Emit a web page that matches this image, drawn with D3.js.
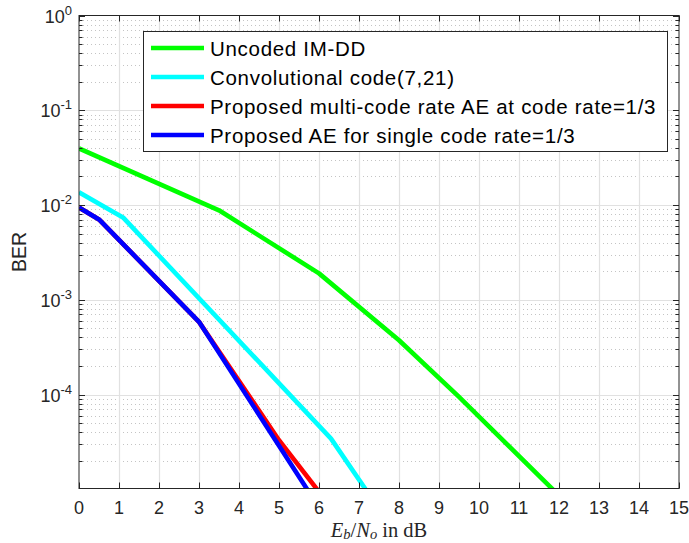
<!DOCTYPE html>
<html>
<head>
<meta charset="utf-8">
<script src="https://cdn.jsdelivr.net/npm/d3@7"></script>
<style>
  html, body { margin: 0; padding: 0; background: #fff; }
  svg { display: block; }
</style>
</head>
<body>
<svg id="chart" width="689" height="543"></svg>
<script>
// BER curves versus Eb/No (dB)
const seriesNames = [
  "Uncoded IM-DD",
  "Convolutional code(7,21)",
  "Proposed multi-code rate AE at code rate=1/3",
  "Proposed AE for single code rate=1/3"
];
const seriesColors = ["#00ff00", "#00ffff", "#ff0000", "#0000ff"];

const uncodedX = [0, 3.5, 6, 8, 9.5, 12];
const uncodedY = [0.0396, 0.0088, 0.0019, 3.74e-4, 9.44e-5, 8.6e-6];

const convX = [0, 1.1, 6.3, 7.5];
const convY = [0.0136, 0.0074, 3.43e-5, 6.2e-6];

const multiX = [0, 0.5, 3, 5, 6];
const multiY = [0.0094, 0.00705, 5.85e-4, 3.3e-5, 9.4e-6];

const singleX = [0, 0.5, 3, 6];
const singleY = [0.0094, 0.00705, 5.85e-4, 6.4e-6];

const xTicks = d3.range(0, 16, 1);
const yTickExps = [0, -1, -2, -3, -4];
const yDomain = [1.02e-5, 1];

const series = [
  { x: uncodedX, y: uncodedY },
  { x: convX, y: convY },
  { x: multiX, y: multiY },
  { x: singleX, y: singleY }
];

const svg = d3.select("#chart");
const L = 79, R = 679, T = 15.5, B = 488.5;

const x = d3.scaleLinear().domain([0, 15]).range([L, R]);
const y = d3.scaleLog().domain(yDomain).range([B, T]);

const axisColor = "#262626";
const fontSans = "'Liberation Sans', Arial, Helvetica, sans-serif";

// minor log values
const minorVals = [];
for (let e = -5; e < 0; e++) {
  for (let m = 2; m <= 9; m++) {
    const v = m * Math.pow(10, e);
    if (v > yDomain[0] && v < yDomain[1]) minorVals.push(v);
  }
}

const grid = svg.append("g");
// minor horizontal grid (dotted)
grid.selectAll("line.minor").data(minorVals).join("line")
  .attr("x1", L).attr("x2", R)
  .attr("y1", d => Math.round(y(d)) + 0.5).attr("y2", d => Math.round(y(d)) + 0.5)
  .attr("stroke", "#c4c4c4").attr("stroke-width", 1)
  .attr("stroke-dasharray", "1,3");
// major grid
grid.selectAll("line.vx").data(xTicks.slice(1, -1)).join("line")
  .attr("x1", d => Math.round(x(d)) + 0.5).attr("x2", d => Math.round(x(d)) + 0.5)
  .attr("y1", T).attr("y2", B)
  .attr("stroke", "#e1e1e1").attr("stroke-width", 1.2);
grid.selectAll("line.hy").data(yTickExps.slice(1)).join("line")
  .attr("x1", L).attr("x2", R)
  .attr("y1", d => Math.round(y(Math.pow(10, d))) + 0.5)
  .attr("y2", d => Math.round(y(Math.pow(10, d))) + 0.5)
  .attr("stroke", "#e1e1e1").attr("stroke-width", 1.2);

// curves
svg.append("clipPath").attr("id", "plotClip")
  .append("rect").attr("x", L).attr("y", T).attr("width", R - L).attr("height", B - T);

const line = d3.line().x(d => x(d[0])).y(d => y(d[1]));
const curves = svg.append("g").attr("clip-path", "url(#plotClip)");
series.forEach((s, i) => {
  const pts = s.x.map((v, k) => [v, s.y[k]]);
  curves.append("path").datum(pts)
    .attr("d", line)
    .attr("fill", "none")
    .attr("stroke", seriesColors[i])
    .attr("stroke-width", 4.6)
    .attr("stroke-linejoin", "round");
});

// axes with inward ticks on all sides
const axes = svg.append("g");
axes.append("rect").attr("x", L).attr("y", T).attr("width", R - L).attr("height", B - T)
  .attr("fill", "none").attr("stroke", axisColor).attr("stroke-width", 1);

const majorLen = 6, minorLen = 3.5;
xTicks.forEach(t => {
  const px = Math.round(x(t)) + 0.5;
  axes.append("line").attr("x1", px).attr("x2", px).attr("y1", B).attr("y2", B - majorLen)
    .attr("stroke", axisColor);
  axes.append("line").attr("x1", px).attr("x2", px).attr("y1", T).attr("y2", T + majorLen)
    .attr("stroke", axisColor);
});
yTickExps.forEach(e => {
  const py = Math.round(y(Math.pow(10, e))) + 0.5;
  axes.append("line").attr("x1", L).attr("x2", L + majorLen).attr("y1", py).attr("y2", py)
    .attr("stroke", axisColor);
  axes.append("line").attr("x1", R).attr("x2", R - majorLen).attr("y1", py).attr("y2", py)
    .attr("stroke", axisColor);
});
minorVals.forEach(v => {
  const py = Math.round(y(v)) + 0.5;
  axes.append("line").attr("x1", L).attr("x2", L + minorLen).attr("y1", py).attr("y2", py)
    .attr("stroke", axisColor);
  axes.append("line").attr("x1", R).attr("x2", R - minorLen).attr("y1", py).attr("y2", py)
    .attr("stroke", axisColor);
});

// x tick labels
svg.append("g").selectAll("text").data(xTicks).join("text")
  .attr("x", d => x(d)).attr("y", 514)
  .attr("text-anchor", "middle")
  .attr("font-family", fontSans).attr("font-size", 18).attr("fill", axisColor)
  .text(d => d);

// y tick labels 10^e
const yl = svg.append("g");
yTickExps.forEach(e => {
  const t = yl.append("text")
    .attr("x", 72).attr("y", y(Math.pow(10, e)) + 7)
    .attr("text-anchor", "end")
    .attr("font-family", fontSans).attr("font-size", 18).attr("fill", axisColor);
  t.append("tspan").text("10");
  t.append("tspan").attr("font-size", 13).attr("dy", -8).text(e);
});

// axis titles
svg.append("text")
  .attr("transform", `translate(26,${(T + B) / 2}) rotate(-90)`)
  .attr("text-anchor", "middle")
  .attr("font-family", fontSans).attr("font-size", 19.5).attr("fill", axisColor)
  .text("BER");

const xt = svg.append("text")
  .attr("x", (L + R) / 2).attr("y", 537)
  .attr("text-anchor", "middle")
  .attr("font-family", "'Liberation Serif', 'Times New Roman', serif")
  .attr("font-size", 20.5).attr("fill", axisColor);
xt.append("tspan").attr("font-style", "italic").text("E");
xt.append("tspan").attr("font-style", "italic").attr("font-size", 14.5).attr("dy", 2).text("b");
xt.append("tspan").attr("dy", -2).text("/");
xt.append("tspan").attr("font-style", "italic").text("N");
xt.append("tspan").attr("font-style", "italic").attr("font-size", 14.5).attr("dy", 2).text("o");
xt.append("tspan").attr("dy", -2).text(" in dB");

// legend
const lg = svg.append("g");
const lgX = 143.5, lgY = 31.5, lgW = 524, lgH = 120;
lg.append("rect").attr("x", lgX).attr("y", lgY).attr("width", lgW).attr("height", lgH)
  .attr("fill", "#fff").attr("stroke", axisColor).attr("stroke-width", 1);
const rowY = d3.scaleLinear().domain([0, 3]).range([48, 135]);
seriesNames.forEach((name, i) => {
  lg.append("line")
    .attr("x1", 151).attr("x2", 204)
    .attr("y1", rowY(i)).attr("y2", rowY(i))
    .attr("stroke", seriesColors[i]).attr("stroke-width", 4.6);
  lg.append("text")
    .attr("x", 210).attr("y", rowY(i) + 7.5)
    .attr("font-family", fontSans).attr("font-size", 20.5)
    .attr("letter-spacing", 0.7).attr("fill", "#000")
    .text(name);
});
</script>
</body>
</html>
